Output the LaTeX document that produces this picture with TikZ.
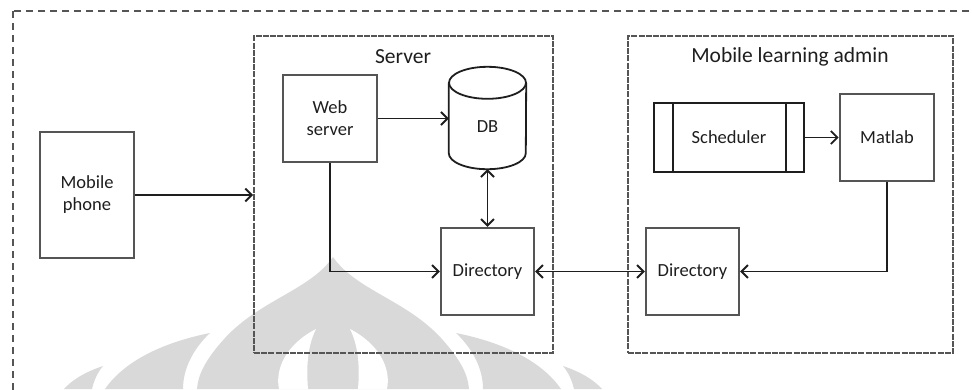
\documentclass[tikz,border=0pt]{standalone}
\usepackage{fontspec}
\setmainfont{Carlito}
\usetikzlibrary{arrows.meta}
\definecolor{wm}{RGB}{217,217,217}
\definecolor{edge}{RGB}{85,85,85}
\definecolor{ink}{RGB}{30,30,30}
\begin{document}
\begin{tikzpicture}[x=1pt,y=-1pt,
  >={Straight Barb[length=6.5pt,width=13pt]},
  box/.style={draw=edge, line width=2.2pt, inner sep=0pt, text=ink, align=center,
    font=\fontsize{18.5}{22}\selectfont},
  grp/.style={draw=edge, line width=1.8pt, dash pattern=on 6pt off 1.2pt, inner sep=0pt},
  outerframe/.style={draw=edge, line width=1.4pt, dash pattern=on 7pt off 5pt},
  grptitle/.style={text=ink, font=\fontsize{21.5}{24}\selectfont, inner sep=0pt},
  arr/.style={draw=ink, line width=1.9pt}]
\useasboundingbox (0,0) rectangle (972,389);
% watermark
\begin{scope}
\fill[wm] (333,257) .. controls (310,290) and (260,300) .. (225,338)
  .. controls (205,360) and (198,375) .. (197,389) -- (469,389)
  .. controls (468,375) and (461,360) .. (441,338)
  .. controls (406,300) and (356,290) .. (333,257) -- cycle;
\fill[wm] (210,333) .. controls (165,342) and (125,360) .. (105,389) -- (183,389)
  .. controls (183,370) and (192,350) .. (210,333) -- cycle;
\fill[wm] (456,333) .. controls (501,342) and (541,360) .. (561,389) -- (483,389)
  .. controls (483,370) and (474,350) .. (456,333) -- cycle;
\fill[wm] (103,366) .. controls (85,372) and (72,380) .. (64,389) -- (92,389)
  .. controls (94,380) and (98,372) .. (103,366) -- cycle;
\fill[wm] (563,366) .. controls (581,372) and (594,380) .. (602,389) -- (574,389)
  .. controls (572,380) and (568,372) .. (563,366) -- cycle;
\fill[white] (316,329) .. controls (285,345) and (275,370) .. (279,389) -- (308,389)
  .. controls (306,365) and (308,345) .. (316,329) -- cycle;
\fill[white] (350,329) .. controls (381,345) and (391,370) .. (387,389) -- (358,389)
  .. controls (360,365) and (358,345) .. (350,329) -- cycle;
\end{scope}
% outer frame
\draw[outerframe] (13,11) rectangle (1000,420);
% groups
\node[grp, minimum width=299pt, minimum height=317pt] (server) at (403.5,194.5) {};
\node[grp, minimum width=325pt, minimum height=317pt] (admin) at (790.5,194.5) {};
\node[grptitle] (servertitle) at (403,57) {Server};
\node[grptitle] (admintitle) at (790,57) {Mobile learning admin};
% boxes
\node[box, minimum width=94pt, minimum height=126pt] (phone) at (87,195) {Mobile\\phone};
\node[box, minimum width=94pt, minimum height=87pt] (web) at (330,118.5) {Web\\server};
\node[box, minimum width=93pt, minimum height=87pt] (dir1) at (487.5,271.5) {Directory};
\node[box, minimum width=93pt, minimum height=87pt] (dir2) at (692.5,271.5) {Directory};
\node[box, draw=ink, line width=2pt, minimum width=150pt, minimum height=69pt] (sched) at (729,137.5) {Scheduler};
\node[box, line width=2.6pt, minimum width=94pt, minimum height=87pt] (matlab) at (887,137.5) {Matlab};
\draw[draw=ink, line width=2pt] ([xshift=20pt]sched.north west) -- ([xshift=20pt]sched.south west);
\draw[draw=ink, line width=2.8pt] ([xshift=-19pt]sched.north east) -- ([xshift=-19pt]sched.south east);
% database cylinder
\node[minimum width=77pt, minimum height=102pt, inner sep=0pt] (db) at (487.5,118) {};
\node[text=ink, font=\fontsize{18.5}{22}\selectfont, inner sep=0pt] (dbtext) at (487.5,127) {DB};
\draw[draw=ink, line width=1.8pt] ([yshift=-16pt]db.north) ellipse[x radius=38.5pt, y radius=16pt];
\draw[draw=ink, line width=1.8pt] ([yshift=-16pt]db.north west) -- ([yshift=16pt]db.south west)
  arc[start angle=180, end angle=360, x radius=38.5pt, y radius=16pt]
  -- ([yshift=-16pt]db.north east);
% connectors
\draw[arr,->] (phone.east) -- (phone.east -| server.west);
\draw[arr,->] (web.east) -- (web.east -| db.west);
\draw[arr,->] (web.south) |- (dir1.west);
\draw[arr,<->] (db.south) -- (dir1.north);
\draw[arr,<->] (dir1.east) -- (dir2.west);
\draw[arr,->] (sched.east) -- (matlab.west);
\draw[arr,->] (matlab.south) |- (dir2.east);
\end{tikzpicture}
\end{document}
